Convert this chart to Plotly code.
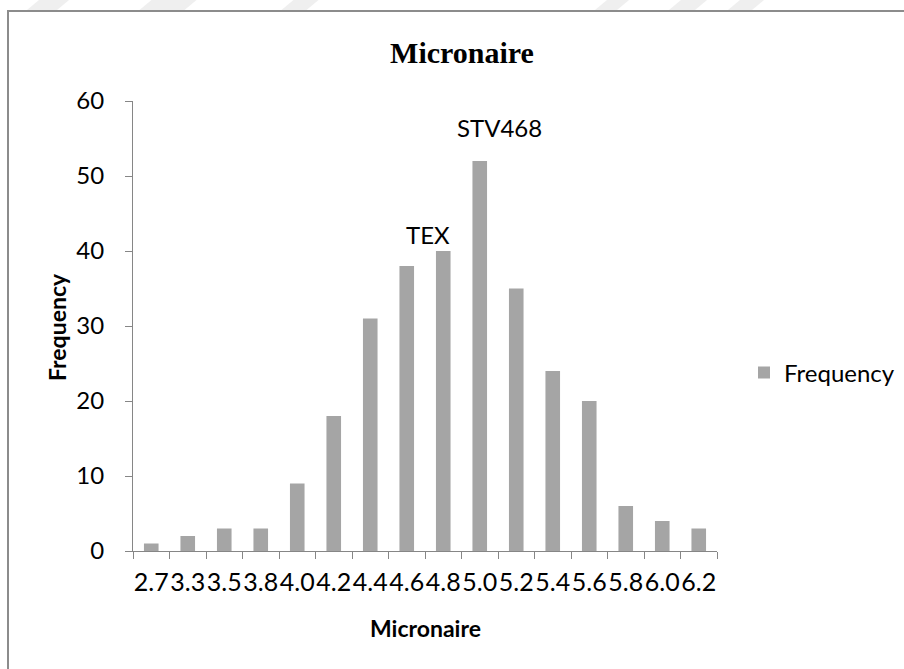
import plotly.graph_objects as go

# Micronaire classes and their counts
micronaire = ["2.7", "3.3", "3.5", "3.8", "4.0", "4.2", "4.4", "4.6",
              "4.8", "5.0", "5.2", "5.4", "5.6", "5.8", "6.0", "6.2"]
frequency = [1, 2, 3, 3, 9, 18, 31, 38, 40, 52, 35, 24, 20, 6, 4, 3]
y_ticks = [0, 10, 20, 30, 40, 50, 60]

# Varieties marked above their class bars
variety_class = ["4.8", "5.0"]
variety_name = ["TEX", "STV468"]

W, H = 904, 669
L, R, T, B = 133, 187, 101, 118
PW, PH = W - L - R, H - T - B


def px(x):
    return (x - L) / PW


def py(y):
    return (H - B - y) / PH


AXIS = "#868686"
BAR = "#A5A5A5"
SANS = "Lato"

fig = go.Figure()
fig.add_trace(go.Bar(
    x=micronaire, y=frequency, name="Frequency",
    marker=dict(color=BAR, line=dict(width=0)),
))

annotations = [
    dict(text="Frequency", textangle=-90, xref="paper", yref="paper",
         x=px(57), y=py(327), xanchor="center", yanchor="middle",
         showarrow=False, font=dict(family=SANS, size=23, color="black", weight="bold")),
    dict(text="Micronaire", xref="paper", yref="paper",
         x=px(425), y=py(628), xanchor="center", yanchor="middle",
         showarrow=False, font=dict(family=SANS, size=23, color="black", weight="bold")),
]
offsets = {"TEX": (-15, 0), "STV468": (20, 17)}
for cls, name in zip(variety_class, variety_name):
    dx, dy = offsets[name]
    i = micronaire.index(cls)
    annotations.append(dict(
        text=name, x=i, y=frequency[i], xref="x", yref="y",
        xanchor="center", yanchor="bottom", xshift=dx, yshift=dy, showarrow=False,
        font=dict(family=SANS, size=24, color="black"),
    ))

# chart frame and faint page decoration along the top edge
shapes = [dict(type="rect", xref="paper", yref="paper",
               x0=px(8), x1=px(912), y0=py(11), y1=py(690),
               line=dict(color="#8c8c8c", width=2), fillcolor="rgba(0,0,0,0)",
               layer="below")]
for cx, wd in [(48, 30), (168, 45), (300, 25), (612, 22), (688, 26), (746, 24)]:
    x0, x1 = cx - wd / 2, cx + wd / 2
    path = (f"M {px(x0 - 6)} {py(10)} L {px(x1 - 6)} {py(10)} "
            f"L {px(x1 + 6)} {py(0)} L {px(x0 + 6)} {py(0)} Z")
    shapes.append(dict(type="path", xref="paper", yref="paper", path=path,
                       fillcolor="#efefef", line=dict(width=0), layer="below"))

fig.update_layout(
    width=W, height=H,
    margin=dict(l=L, r=R, t=T, b=B, autoexpand=False),
    paper_bgcolor="white", plot_bgcolor="white",
    bargap=0.6,
    title=dict(text="Micronaire", x=462 / W, y=1 - 52 / H, xref="container",
               yref="container", xanchor="center", yanchor="middle",
               font=dict(family="Liberation Serif", size=30, color="black", weight="bold")),
    showlegend=True,
    legend=dict(x=px(744), y=py(373), xanchor="left", yanchor="middle",
                font=dict(family=SANS, size=24, color="black"),
                bgcolor="rgba(0,0,0,0)", borderwidth=0),
    annotations=annotations,
    shapes=shapes,
    xaxis=dict(type="category", range=[-0.5, len(micronaire) - 0.5],
               showline=True, linecolor=AXIS, linewidth=1,
               ticks="outside", tickson="boundaries", ticklen=7, tickcolor=AXIS,
               tickangle=0, tickfont=dict(family=SANS, size=25, color="black"),
               ticklabelstandoff=9, showgrid=False, zeroline=False),
    yaxis=dict(range=[0, 60], tickvals=y_ticks, ticktext=[str(v) for v in y_ticks],
               showline=True, linecolor=AXIS, linewidth=1,
               ticks="outside", ticklen=7, tickcolor=AXIS,
               tickfont=dict(family=SANS, size=24, color="black"),
               ticklabelstandoff=16, showgrid=False, zeroline=False),
)

fig.write_html("out.html")
